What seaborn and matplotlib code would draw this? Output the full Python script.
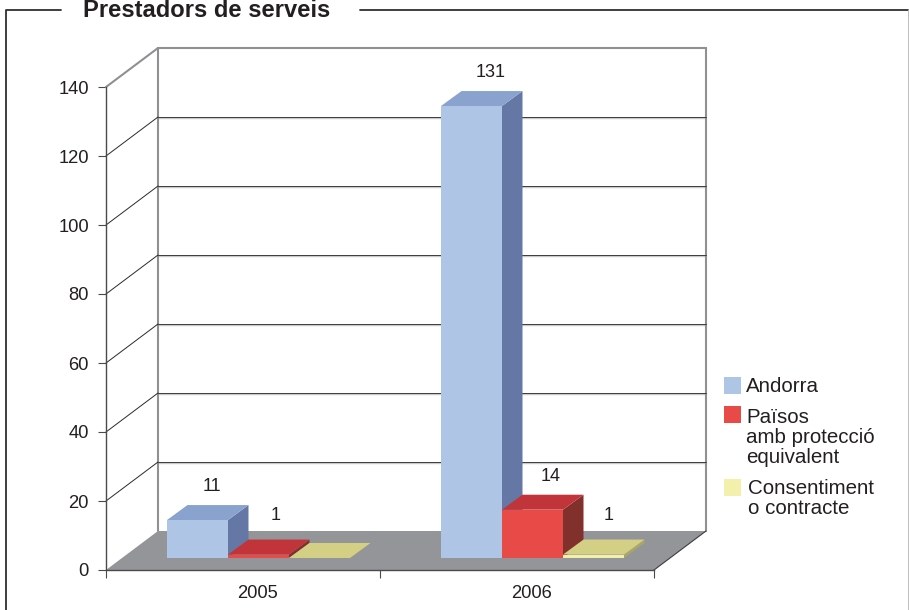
import matplotlib
matplotlib.use('Agg')
import matplotlib.pyplot as plt
import pandas as pd
import seaborn as sns
from matplotlib.lines import Line2D
from matplotlib.patches import Polygon, Rectangle
from matplotlib.transforms import Affine2D, IdentityTransform

anys = ['2005', '2006']
andorra = [11, 131]
paisos = [1, 14]
consentiment = [0, 1]
series = ['Andorra', 'Països\namb protecció\nequivalent', 'Consentiment\no contracte']
y_ticks = [0, 20, 40, 60, 80, 100, 120, 140]

# colors: front, top, side
colors_front = ['#AFC5E6', '#E84A47', '#F2F0AA']
colors_top = ['#8AA3CE', '#C1353A', '#D3CF85']
colors_side = ['#6477A5', '#82302C', '#A9A66A']
text_color = '#231F20'

W, H = 909, 610

sns.set_theme(style='white')
plt.rcParams['font.family'] = ['Liberation Sans', 'DejaVu Sans']

df = pd.DataFrame({'any': anys, series[0]: andorra, series[1]: paisos, series[2]: consentiment})
df = df.melt(id_vars='any', var_name='serie', value_name='valor')

fig = plt.figure(figsize=(W / 100, H / 100), dpi=100, facecolor='white')
ax = fig.add_axes([106 / W, 1 - 570 / H, 548 / W, 483 / H])

sns.barplot(data=df, x='any', y='valor', hue='serie', palette=colors_front, hue_order=series,
            width=0.668, gap=0, saturation=1, legend=False, edgecolor='none', ax=ax)
ax.set_xlim(-0.5, 1.5)
ax.set_ylim(0, 140)
ax.set_xlabel('')
ax.set_ylabel('')
ax.patch.set_alpha(0)


def px(x, y):
    return ax.transData.transform((x, y))


def poly(points, color, z):
    ax.add_patch(Polygon(points, closed=True, facecolor=color, edgecolor='none',
                         transform=IdentityTransform(), clip_on=False, zorder=z))


def shifted(dx, dy):
    return ax.transData + Affine2D().translate(dx, dy)


# depth of the floor and of the bars, in pixels
DEPTH = (52, 39)
BAR_OFFSET = (15.5, 12)
BAR_DEPTH = (20.5, 15)

# axes lines
for s in ['top', 'right']:
    ax.spines[s].set_visible(False)
for s in ['left', 'bottom']:
    ax.spines[s].set_color('#4A4A4C')
    ax.spines[s].set_linewidth(1.0)
    ax.spines[s].set_zorder(3)

ax.set_yticks(y_ticks)
ax.tick_params(axis='y', length=5.8, width=0.8, color='#4A4A4C', pad=6.6, labelsize=13.2,
               labelcolor=text_color, left=True)
ax.set_xticks([-0.5, 0.5, 1.5], minor=True)
ax.tick_params(axis='x', which='minor', length=5.8, width=0.8, color='#4A4A4C', bottom=True)
ax.tick_params(axis='x', which='major', length=0, pad=10.5, labelsize=13.2, labelcolor=text_color)
for label in ax.get_xticklabels():
    label.set_transform(label.get_transform() + Affine2D().translate(BAR_OFFSET[0] - 0.5, 0))

# floor
x0, y0 = px(-0.5, 0)
x1, _ = px(1.5, 0)
poly([(x0, y0), (x1, y0), (x1 + DEPTH[0], y0 + DEPTH[1]), (x0 + DEPTH[0], y0 + DEPTH[1])], '#939598', 1)

# back wall and grid
back = shifted(*DEPTH)
for v in y_ticks[1:]:
    top = v == y_ticks[-1]
    if not top:
        ax.plot([-0.5, 1.5], [v, v], color='#C9C9CB', lw=1.0, transform=back + Affine2D().translate(0, -1.2),
                clip_on=False, zorder=0.6)
    ax.plot([-0.5, 1.5], [v, v], color='#8F9092' if top else '#3C3C3E', lw=1.5 if top else 0.7,
            transform=back, clip_on=False, zorder=0.8)
    xa, ya = px(-0.5, v)
    ax.add_line(Line2D([xa, xa + DEPTH[0]], [ya, ya + DEPTH[1]], color='#8F9092' if top else '#2A2A2C',
                       lw=1.5 if top else 0.7, transform=IdentityTransform(), clip_on=False, zorder=0.8))
for xv in [-0.5, 1.5]:
    ax.plot([xv, xv], [0, y_ticks[-1]], color='#8F9092', lw=1.5, transform=back, clip_on=False, zorder=0.7)
ax.add_line(Line2D([x1, x1 + DEPTH[0]], [y0, y0 + DEPTH[1]], color='#3C3C3E', lw=0.8,
                   transform=IdentityTransform(), clip_on=False, zorder=1.2))

# 3d bars, moved onto the floor, left to right
bars = []
for i, cont in enumerate(ax.containers):
    for j, bar in enumerate(cont):
        bars.append((bar.get_x(), i, j, bar))
bars.sort(key=lambda b: b[0])

# value label offsets from the bar's top centre, pixels
label_dx = {(0, 0): 14.5, (1, 0): 17.5, (0, 1): 19.5, (1, 1): 18.5, (2, 1): 15.5}
for n, (bx, i, j, bar) in enumerate(bars):
    z = 2 + n * 0.1
    bar.set_transform(shifted(*BAR_OFFSET))
    bar.set_zorder(z + 0.02)
    bar.set_clip_on(False)
    h = int(bar.get_height())
    xl, yb = px(bx, 0)
    xr, yt = px(bx + bar.get_width(), h)
    xl, xr = xl + BAR_OFFSET[0], xr + BAR_OFFSET[0]
    yb, yt = yb + BAR_OFFSET[1], yt + BAR_OFFSET[1]
    dx, dy = BAR_DEPTH
    poly([(xr, yb), (xr + dx, yb + dy), (xr + dx, yt + dy), (xr, yt)], colors_side[i], z)
    poly([(xl, yt), (xr, yt), (xr + dx, yt + dy), (xl + dx, yt + dy)], colors_top[i], z + 0.01)
    if h > 0:
        lift = 39.5 if h == 1 else 33.5
        ax.text((xl + xr) / 2 + label_dx[(i, j)], yt + lift, str(h), transform=IdentityTransform(),
                ha='center', va='center', fontsize=13, color=text_color, zorder=5)


def fx(x):
    return x / W


def fy(y):
    return 1 - y / H


# frame with the title set into it
frame = '#2F2F31'
fig.add_artist(Line2D([fx(5.5), fx(5.5), fx(61)], [0, fy(9.5), fy(9.5)], color=frame, lw=1.3))
fig.add_artist(Line2D([fx(360), fx(908)], [fy(9.5), fy(9.5)], color=frame, lw=1.3))
fig.add_artist(Line2D([fx(908), fx(908)], [fy(9.5), 0], color='#BDBDBD', lw=0.7))
fig.text(fx(83), fy(17), 'Prestadors de serveis', fontsize=17.1, fontweight='bold', color=text_color,
         ha='left', va='baseline')

# legend
legend_boxes = [(724, 377), (724, 406), (724, 479)]
legend_text = [(746, 386), (746, 437.5), (748, 498.5)]
for (bx, by), (tx, ty), col, name in zip(legend_boxes, legend_text, colors_front, series):
    fig.add_artist(Rectangle((fx(bx), fy(by + 17)), 17 / W, 17 / H, facecolor=col, edgecolor='none',
                             transform=fig.transFigure))
    fig.text(fx(tx), fy(ty), name, fontsize=14.8, color=text_color, ha='left', va='center', linespacing=1.06)

fig.savefig('out.png', dpi=100, facecolor='white')
